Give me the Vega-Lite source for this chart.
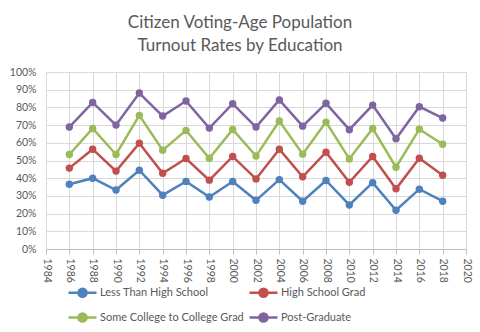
{
  "$schema": "https://vega.github.io/schema/vega-lite/v6.json",
  "width": 420,
  "height": 177,
  "autosize": {"type": "none"},
  "padding": {"left": 46, "top": 72, "right": 14, "bottom": 83},
  "background": "white",
  "title": {
    "text": ["Citizen Voting-Age Population", "Turnout Rates by Education"],
    "font": "Lato",
    "fontSize": 17,
    "fontWeight": "normal",
    "color": "#595959",
    "lineHeight": 23,
    "anchor": "middle",
    "frame": "group",
    "dx": -16,
    "offset": 12
  },
  "config": {
    "view": {"stroke": null},
    "font": "Lato",
    "axis": {
      "labelFont": "Lato",
      "labelColor": "#595959",
      "labelFontSize": 10.5,
      "gridColor": "#D9D9D9",
      "gridWidth": 1,
      "domainColor": "#BFBFBF",
      "tickColor": "#BFBFBF",
      "title": null
    },
    "legend": {
      "labelFont": "Lato",
      "labelFontSize": 11,
      "labelColor": "#595959"
    }
  },
  "data": {
    "values": [
      {"year": 1986, "series": "Less Than High School", "rate": 0.366},
      {"year": 1988, "series": "Less Than High School", "rate": 0.400},
      {"year": 1990, "series": "Less Than High School", "rate": 0.333},
      {"year": 1992, "series": "Less Than High School", "rate": 0.445},
      {"year": 1994, "series": "Less Than High School", "rate": 0.304},
      {"year": 1996, "series": "Less Than High School", "rate": 0.382},
      {"year": 1998, "series": "Less Than High School", "rate": 0.294},
      {"year": 2000, "series": "Less Than High School", "rate": 0.381},
      {"year": 2002, "series": "Less Than High School", "rate": 0.275},
      {"year": 2004, "series": "Less Than High School", "rate": 0.392},
      {"year": 2006, "series": "Less Than High School", "rate": 0.270},
      {"year": 2008, "series": "Less Than High School", "rate": 0.387},
      {"year": 2010, "series": "Less Than High School", "rate": 0.249},
      {"year": 2012, "series": "Less Than High School", "rate": 0.375},
      {"year": 2014, "series": "Less Than High School", "rate": 0.219},
      {"year": 2016, "series": "Less Than High School", "rate": 0.338},
      {"year": 2018, "series": "Less Than High School", "rate": 0.270},
      {"year": 1986, "series": "High School Grad", "rate": 0.457},
      {"year": 1988, "series": "High School Grad", "rate": 0.564},
      {"year": 1990, "series": "High School Grad", "rate": 0.440},
      {"year": 1992, "series": "High School Grad", "rate": 0.598},
      {"year": 1994, "series": "High School Grad", "rate": 0.428},
      {"year": 1996, "series": "High School Grad", "rate": 0.511},
      {"year": 1998, "series": "High School Grad", "rate": 0.389},
      {"year": 2000, "series": "High School Grad", "rate": 0.523},
      {"year": 2002, "series": "High School Grad", "rate": 0.396},
      {"year": 2004, "series": "High School Grad", "rate": 0.564},
      {"year": 2006, "series": "High School Grad", "rate": 0.408},
      {"year": 2008, "series": "High School Grad", "rate": 0.547},
      {"year": 2010, "series": "High School Grad", "rate": 0.377},
      {"year": 2012, "series": "High School Grad", "rate": 0.523},
      {"year": 2014, "series": "High School Grad", "rate": 0.340},
      {"year": 2016, "series": "High School Grad", "rate": 0.513},
      {"year": 2018, "series": "High School Grad", "rate": 0.417},
      {"year": 1986, "series": "Some College to College Grad", "rate": 0.534},
      {"year": 1988, "series": "Some College to College Grad", "rate": 0.681},
      {"year": 1990, "series": "Some College to College Grad", "rate": 0.534},
      {"year": 1992, "series": "Some College to College Grad", "rate": 0.755},
      {"year": 1994, "series": "Some College to College Grad", "rate": 0.558},
      {"year": 1996, "series": "Some College to College Grad", "rate": 0.670},
      {"year": 1998, "series": "Some College to College Grad", "rate": 0.513},
      {"year": 2000, "series": "Some College to College Grad", "rate": 0.675},
      {"year": 2002, "series": "Some College to College Grad", "rate": 0.525},
      {"year": 2004, "series": "Some College to College Grad", "rate": 0.723},
      {"year": 2006, "series": "Some College to College Grad", "rate": 0.536},
      {"year": 2008, "series": "Some College to College Grad", "rate": 0.717},
      {"year": 2010, "series": "Some College to College Grad", "rate": 0.509},
      {"year": 2012, "series": "Some College to College Grad", "rate": 0.681},
      {"year": 2014, "series": "Some College to College Grad", "rate": 0.462},
      {"year": 2016, "series": "Some College to College Grad", "rate": 0.677},
      {"year": 2018, "series": "Some College to College Grad", "rate": 0.592},
      {"year": 1986, "series": "Post-Graduate", "rate": 0.689},
      {"year": 1988, "series": "Post-Graduate", "rate": 0.828},
      {"year": 1990, "series": "Post-Graduate", "rate": 0.700},
      {"year": 1992, "series": "Post-Graduate", "rate": 0.881},
      {"year": 1994, "series": "Post-Graduate", "rate": 0.751},
      {"year": 1996, "series": "Post-Graduate", "rate": 0.836},
      {"year": 1998, "series": "Post-Graduate", "rate": 0.683},
      {"year": 2000, "series": "Post-Graduate", "rate": 0.821},
      {"year": 2002, "series": "Post-Graduate", "rate": 0.689},
      {"year": 2004, "series": "Post-Graduate", "rate": 0.842},
      {"year": 2006, "series": "Post-Graduate", "rate": 0.694},
      {"year": 2008, "series": "Post-Graduate", "rate": 0.823},
      {"year": 2010, "series": "Post-Graduate", "rate": 0.674},
      {"year": 2012, "series": "Post-Graduate", "rate": 0.813},
      {"year": 2014, "series": "Post-Graduate", "rate": 0.623},
      {"year": 2016, "series": "Post-Graduate", "rate": 0.804},
      {"year": 2018, "series": "Post-Graduate", "rate": 0.740}
    ]
  },
  "encoding": {
    "x": {
      "field": "year",
      "type": "quantitative",
      "scale": {"domain": [1984, 2020], "nice": false, "zero": false},
      "axis": {
        "values": [1984, 1986, 1988, 1990, 1992, 1994, 1996, 1998, 2000, 2002, 2004, 2006, 2008, 2010, 2012, 2014, 2016, 2018, 2020],
        "format": "d",
        "labelAngle": 90,
        "labelAlign": "left",
        "labelBaseline": "middle",
        "labelPadding": 4,
        "ticks": true,
        "tickSize": 5,
        "grid": true,
        "labelOverlap": false,
        "labelBound": false,
        "labelFlush": false
      }
    },
    "y": {
      "field": "rate",
      "type": "quantitative",
      "scale": {"domain": [0, 1], "nice": false},
      "axis": {
        "values": [0, 0.1, 0.2, 0.3, 0.4, 0.5, 0.6, 0.7, 0.8, 0.9, 1.0],
        "format": ".0%",
        "ticks": false,
        "labelPadding": 10,
        "grid": true,
        "domainColor": "#D9D9D9"
      }
    },
    "color": {
      "field": "series",
      "type": "nominal",
      "scale": {
        "domain": ["Less Than High School", "High School Grad", "Some College to College Grad", "Post-Graduate"],
        "range": ["#4F81BD", "#C0504D", "#9BBB59", "#8064A2"]
      },
      "legend": {
        "title": null,
        "orient": "none",
        "legendX": 21,
        "legendY": 205,
        "columns": 2,
        "direction": "horizontal",
        "symbolType": "M-1,0L1,0M0.29,0A0.29,0.29,0,1,1,-0.29,0A0.29,0.29,0,1,1,0.29,0Z",
        "symbolSize": 784,
        "symbolStrokeWidth": 2.5,
        "labelOffset": 2,
        "columnPadding": 0,
        "rowPadding": -7
      }
    }
  },
  "layer": [
    {"mark": {"type": "line", "strokeWidth": 2.5}},
    {"mark": {"type": "point", "filled": true, "size": 55, "opacity": 1}}
  ]
}
